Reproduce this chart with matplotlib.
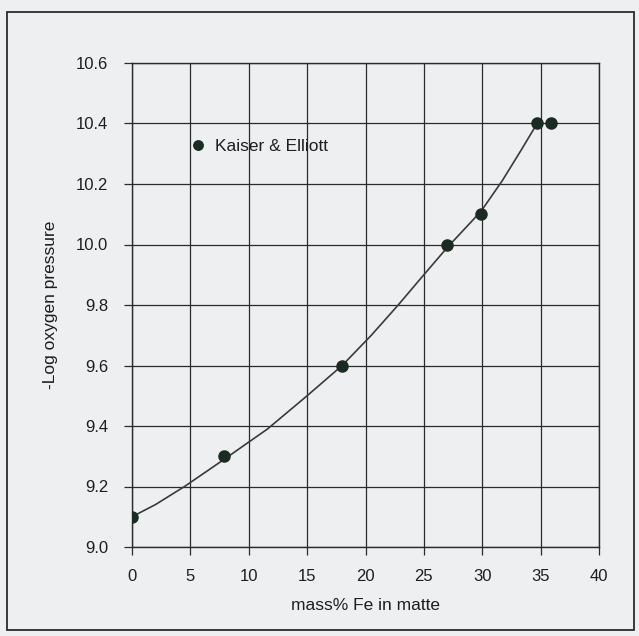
import matplotlib
matplotlib.use("Agg")
import matplotlib.pyplot as plt
from matplotlib.patches import Rectangle

# measured points (Kaiser & Elliott)
fe_mass = [0, 7.9, 18.0, 27.0, 29.9, 34.7, 35.9]
log_po2 = [9.1, 9.3, 9.6, 10.0, 10.1, 10.4, 10.4]

# trend curve
curve_x = [0, 2.0, 4.5, 7.9, 11.6, 15.0, 18.0, 20.5, 22.8, 25.0, 27.0, 29.9, 31.7, 33.3, 34.7]
curve_y = [9.1, 9.14, 9.2, 9.29, 9.39, 9.5, 9.6, 9.7, 9.8, 9.9, 9.99, 10.11, 10.21, 10.31, 10.4]

x_ticks = [0, 5, 10, 15, 20, 25, 30, 35, 40]
y_ticks = [9.0, 9.2, 9.4, 9.6, 9.8, 10.0, 10.2, 10.4, 10.6]

bg = "#eeeff1"
ink = "#2b2b2b"
dot = "#1b2a22"

plt.rcParams["font.family"] = ["Liberation Sans", "DejaVu Sans"]

W, H = 639, 636
fig = plt.figure(figsize=(W / 100, H / 100), dpi=100, facecolor=bg)
ax = fig.add_axes([132 / W, 1 - 547 / H, (599 - 132) / W, (547 - 63) / H])
ax.set_facecolor(bg)

ax.set_xlim(0, 40)
ax.set_ylim(9.0, 10.6)
ax.set_xticks(x_ticks)
ax.set_yticks(y_ticks)
ax.set_yticklabels([f"{v:.1f}" for v in y_ticks])
ax.grid(True, color=ink, linewidth=0.9)
ax.set_axisbelow(True)
for s in ax.spines.values():
    s.set_color(ink)
    s.set_linewidth(1.0)

ax.tick_params(axis="x", direction="out", length=6, width=0.9, color=ink, labelsize=12, pad=10, labelcolor="#1e1e1e")
ax.tick_params(axis="y", direction="out", length=6, width=0.9, color=ink, labelsize=12, pad=11, labelcolor="#1e1e1e")

ax.plot(curve_x, curve_y, color="#3a3a3a", linewidth=1.2, zorder=3)
ax.plot(fe_mass, log_po2, linestyle="none", marker="o", markersize=8,
        color=dot, label="Kaiser & Elliott", zorder=4)

ax.set_xlabel("mass% Fe in matte", fontsize=12.5, labelpad=10, color="#1e1e1e")
ax.set_ylabel("-Log oxygen pressure", fontsize=12.5, labelpad=13, color="#1e1e1e")

ax.legend(loc="center left", bbox_to_anchor=(189 / W, 1 - 146 / H), bbox_transform=fig.transFigure,
          frameon=False, fontsize=12.5, handlelength=1.0, handletextpad=0.5,
          borderpad=0, borderaxespad=0, markerscale=0.85, labelcolor="#1e1e1e")

# outer frame of the scanned figure
fig.patches.append(Rectangle((7 / W, 1 - 630 / H), (634 - 7) / W, (630 - 12) / H,
                             transform=fig.transFigure, fill=False, edgecolor=ink, linewidth=1.3))

fig.savefig("out.png", dpi=100, facecolor=bg)
